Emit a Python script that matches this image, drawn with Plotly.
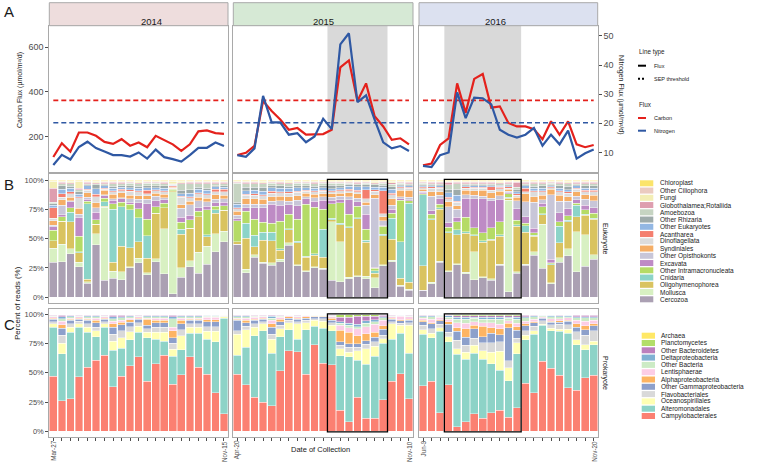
import plotly.graph_objects as go

W, H = 757, 462
def px(x): return x / W
def py(y): return 1 - y / H

# ---------------- data ----------------
years = ["2014", "2015", "2016"]
bar_idx = list(range(21))
first_dates = ["Mar-27", "Apr-20", "Jun-9"]
last_dates = ["Nov-15", "Nov-10", "Nov-20"]
strip_colors = ["#EEDDDD", "#D6E9D5", "#DCE1F0"]

carbon_2014 = [108, 170, 132, 218, 218, 203, 176, 167, 188, 159, 173, 152, 203, 183, 165, 136, 165, 223, 227, 215, 212]
carbon_2015 = [117, 127, 158, 359, 314, 276, 230, 238, 208, 208, 211, 230, 510, 541, 359, 438, 291, 245, 185, 192, 165]
carbon_2016 = [71, 79, 162, 192, 438, 306, 458, 480, 329, 335, 261, 245, 245, 233, 188, 268, 208, 268, 165, 152, 162]
nitrogen_2014 = [5.7, 9.2, 7.6, 11.9, 13.7, 11.5, 10.3, 9.1, 9.1, 8.6, 10.0, 7.9, 11.0, 8.4, 7.7, 6.9, 9.1, 11.6, 11.6, 13.4, 12.2]
nitrogen_2015 = [9.1, 8.5, 11.4, 29.4, 20.3, 20.3, 16.1, 16.6, 13.5, 15.5, 21.6, 18.0, 47.1, 50.9, 27.3, 29.6, 21.3, 13.5, 11.4, 12.2, 10.5]
nitrogen_2016 = [5.4, 5.0, 9.1, 10.0, 30.6, 21.8, 28.8, 28.6, 26.5, 17.8, 16.1, 15.1, 16.1, 18.4, 12.3, 16.1, 12.8, 17.5, 7.9, 9.7, 11.0]
carbon_threshold = 362
nitrogen_threshold = 20.2
# SEP periods (first and last sample index) for 2015 and 2016
sep_periods = {1: (11, 17), 2: (3, 11)}

euk_names = ["Cercozoa", "Mollusca", "Oligohymenophorea", "Cnidaria", "Other Intramacronucleata",
             "Excavata", "Other Opisthokonts", "Syndiniales", "Dinoflagellata", "Acantharea",
             "Other Eukaryotes", "Other Rhizaria", "Amoebozoa", "Globothalamea;Rotaliida",
             "Fungi", "Other Ciliophora", "Chloroplast"]
euk_colors = ["#ABA0B3", "#D8F0C2", "#D9C360", "#8CD4C8", "#B5DB66", "#BE8BC5", "#C8C6D8",
              "#F5AE66", "#DCDCDC", "#F47E6E", "#93B7E3", "#9EABAA", "#C6D4C2", "#DE9EAF",
              "#F3EEB5", "#EBCBC0", "#FBE46B"]

euk_cercozoa = [30, 31, 37, 26, 12, 44, 15, 16, 15, 27, 29, 20, 33, 20, 3, 16, 26, 21, 29, 40, 48,
                48, 21, 35, 28, 29, 31, 44, 28, 23, 25, 25, 16, 14, 18, 18, 17, 8, 30, 27, 10, 6,
                6, 12, 30, 22, 28, 21, 15, 17, 15, 26, 5, 21, 28, 36, 25, 12, 30, 35, 22, 27, 33]
euk_mollusca = [12, 15, 4, 4, 1.5, 9, 65, 6, 7, 1, 4, 2, 3, 39, 88, 8, 5, 18, 16, 16, 9,
                0, 3, 2, 1, 2, 2, 2, 1, 1, 1, 1, 55, 37, 1, 1, 2, 8, 1, 1, 1, 1,
                0, 1, 1, 1, 1, 1, 24, 1, 1, 1, 81, 1, 1, 3, 38, 1, 4, 6, 35, 28, 4]
euk_oligo = [6, 20, 23, 8, 2, 8, 1, 8, 22, 17, 14, 13, 42, 18, 1, 27, 28, 31, 8, 18, 18,
             2, 27, 7, 18, 20, 8, 11, 20, 12, 10, 10, 2, 16, 48, 50, 31, 4, 28, 16, 6, 6,
             22, 55, 45, 33, 25, 35, 14, 30, 34, 23, 2, 40, 28, 13, 8, 16, 13, 23, 13, 17, 31]
euk_cnidaria = [0, 0, 8, 1, 66, 0, 4, 45, 34, 35, 20, 20, 0, 0, 0, 4, 0, 0, 2, 3, 0,
                0, 13, 10, 7, 8, 1, 1, 1, 1, 1, 25, 1, 1, 1, 1, 2, 2, 1, 16, 33, 69,
                64, 1, 1, 1, 4, 1, 1, 1, 1, 1, 1, 1, 6, 1, 1, 1, 14, 1, 10, 1, 1]
euk_other_intra = [9, 4, 4, 13, 2, 4, 3, 5, 4, 5, 8, 15, 6, 4, 1, 6, 7, 5, 22, 3, 4,
                   19, 10, 14, 8, 8, 24, 12, 20, 47, 40, 18, 14, 19, 12, 10, 10, 2, 8, 4, 38, 2,
                   1, 4, 3, 4, 7, 13, 6, 7, 10, 11, 3, 4, 2, 2, 6, 1, 4, 4, 2, 4, 4]
euk_excavata = [3, 2, 5, 16, 2, 6, 2, 3, 3, 2, 5, 14, 6, 3, 0.5, 4, 4, 3, 3, 3, 3,
                2, 3, 10, 12, 17, 14, 8, 12, 5, 5, 8, 3, 3, 14, 4, 14, 1, 1, 3, 1, 1,
                1, 3, 5, 4, 4, 17, 25, 30, 24, 18, 1, 10, 6, 4, 3, 3, 8, 6, 3, 4, 5]
euk_other_opis = [1.5, 8, 1, 3, 1.5, 4, 1, 1, 1, 3, 3, 4, 4, 2, 0.5, 7, 9, 6, 4, 3, 3,
                  3, 3, 3, 3, 3, 4, 3, 5, 2, 3, 3, 3, 3, 3, 3, 8, 57, 4, 3, 2, 2,
                  1, 13, 3, 14, 7, 3, 3, 2, 2, 3, 1, 7, 13, 22, 3, 58, 10, 6, 3, 5, 6]
euk_syndiniales = [4, 5, 3, 5, 4, 4, 4, 4, 4, 3, 3, 3, 3, 3, 1, 3, 3, 3, 3, 4, 3,
                   4, 5, 5, 4, 4, 4, 4, 4, 3, 3, 3, 3, 3, 4, 4, 3, 3, 4, 5, 6, 6,
                   2, 4, 3, 4, 3, 4, 4, 5, 5, 4, 2, 3, 7, 5, 4, 5, 5, 4, 4, 4, 5]
euk_dino = [2, 2, 3, 9, 2, 5, 1, 2, 2, 4, 3, 2, 2, 2, 0.5, 6, 3, 3, 3, 3, 3,
            2, 3, 3, 3, 3, 3, 3, 3, 2, 2, 2, 2, 2, 2, 2, 3, 3, 3, 3, 2, 2,
            1, 3, 3, 3, 3, 2, 2, 2, 2, 2, 1, 2, 2, 4, 3, 1, 3, 3, 2, 3, 3]
euk_acantharea = [9, 3, 1.5, 1, 1, 2, 1, 1, 1, 1, 1, 3, 1, 1, 0.5, 1, 1, 1, 1, 2, 2,
                  1, 1, 1, 1, 2, 1, 1, 1, 1, 1, 1, 1, 1, 1, 1, 8, 1, 22, 1, 1, 1,
                  1, 1, 1, 1, 1, 1, 1, 1, 3, 1, 1, 1, 3, 1, 1, 1, 1, 1, 1, 1, 1]
euk_other_euk = [2, 4, 3, 2, 3, 5, 2, 2, 2, 2, 2, 2, 2, 2, 0.5, 2, 3, 3, 3, 2, 2,
                 3, 3, 3, 3, 3, 3, 3, 3, 2, 2, 2, 2, 2, 3, 3, 3, 2, 3, 3, 1, 1,
                 1, 1, 1, 4, 5, 1, 1, 1, 1, 1, 1, 2, 2, 2, 2, 1, 2, 2, 2, 2, 2]
euk_other_rhiz = [1.5, 3, 2, 2, 1, 3, 1, 2, 1, 2, 2, 2, 2, 2, 0.5, 3, 3, 2, 2, 1, 1,
                  2, 3, 3, 3, 2, 2, 2, 2, 2, 2, 2, 3, 2, 2, 2, 2, 2, 2, 2, 1, 1,
                  1, 1, 1, 3, 5, 1, 1, 1, 1, 1, 1, 2, 1, 2, 2, 1, 2, 3, 1, 2, 2]
euk_amoebozoa = [1, 2, 2, 2, 1, 1, 1, 2, 2, 2, 2, 2, 2, 2, 0.5, 5, 5, 3, 4, 2, 2,
                 17, 3, 3, 3, 2, 2, 2, 2, 2, 2, 2, 2, 2, 1, 1, 1, 1, 2, 2, 1, 1,
                 1, 1, 1, 4, 5, 1, 1, 1, 1, 1, 1, 2, 1, 2, 2, 1, 2, 2, 1, 2, 2]
euk_globo = [12, 1, 1, 1, 1, 1, 1, 1, 1, 1, 1, 1, 1, 1, 0.5, 1, 1, 1, 1, 1, 1,
             1, 1, 1, 1, 1, 1, 1, 1, 1, 1, 1, 1, 1, 1, 1, 1, 1, 1, 1, 1, 1,
             1, 1, 1, 2, 1, 1, 1, 1, 1, 1, 1, 4, 1, 1, 1, 1, 1, 1, 1, 1, 1]
euk_fungi = [6, 1, 1, 6, 1, 1, 1, 1, 1, 1, 1, 1, 1, 1, 2, 1, 1, 1, 1, 1, 1,
             1, 1, 1, 1, 1, 1, 1, 1, 1, 1, 1, 1, 1, 1, 1, 1, 1, 1, 1, 1, 1,
             1, 1, 1, 1, 1, 1, 1, 1, 1, 1, 1, 1, 1, 1, 1, 1, 1, 1, 1, 1, 1]
euk_other_cilio = [0.5, 0.5, 0.5, 0.5, 0.5, 0.5, 0.5, 0.5, 0.5, 0.5, 0.5, 0.5, 0.5, 0.5, 0.5, 0.5, 0.5, 0.5, 0.5, 0.5, 0.5,
                   0.5, 0.5, 0.5, 0.5, 0.5, 0.5, 0.5, 0.5, 0.5, 0.5, 0.5, 0.5, 0.5, 0.5, 0.5, 0.5, 0.5, 0.5, 0.5, 0.5, 0.5,
                   0.5, 0.5, 0.5, 0.5, 0.5, 0.5, 0.5, 0.5, 0.5, 0.5, 0.5, 0.5, 0.5, 0.5, 0.5, 0.5, 0.5, 0.5, 0.5, 0.5, 0.5]
euk_chloroplast = [0.5, 0.5, 0.5, 0.5, 0.5, 0.5, 0.5, 0.5, 0.5, 0.5, 0.5, 0.5, 0.5, 0.5, 0.5, 0.5, 0.5, 0.5, 0.5, 0.5, 0.5,
                   0.5, 0.5, 0.5, 0.5, 0.5, 0.5, 0.5, 0.5, 0.5, 0.5, 0.5, 0.5, 0.5, 0.5, 0.5, 0.5, 0.5, 0.5, 0.5, 0.5, 0.5,
                   0.5, 0.5, 0.5, 0.5, 0.5, 0.5, 0.5, 0.5, 0.5, 0.5, 0.5, 0.5, 0.5, 0.5, 0.5, 0.5, 0.5, 0.5, 0.5, 0.5, 0.5]

pro_names = ["Campylobacterales", "Alteromonadales", "Oceanospirillales", "Flavobacteriales",
             "Other Gammaproteobacteria", "Alphaproteobacteria", "Lentisphaerae", "Other Bacteria",
             "Deltaproteobacteria", "Other Bacteroidetes", "Planctomycetes", "Archaea"]
pro_colors = ["#FB8072", "#8DD3C7", "#FFFFB3", "#D9D9D9", "#8DA0CB", "#FDB462", "#FCCDE5",
              "#CCEBC5", "#80B1D3", "#BC80BD", "#B3DE69", "#FFE866"]

pro_campylo = [47, 26, 28, 47, 55, 61, 65, 38, 47, 56, 64, 43, 58, 65, 40, 48, 64, 55, 49, 33, 15,
               49, 40, 29, 25, 22, 52, 69, 68, 49, 74, 58, 57, 18, 8, 29, 11, 11, 27, 43, 50, 28,
               39, 43, 16, 40, 4, 8, 15, 11, 16, 18, 12, 20, 41, 33, 60, 54, 48, 37, 35, 45, 48]
pro_altero = [42, 40, 57, 43, 30, 20, 24, 31, 24, 22, 21, 37, 21, 12, 24, 21, 20, 29, 30, 44, 82,
              16, 32, 53, 61, 45, 29, 18, 11, 38, 16, 30, 29, 47, 56, 32, 46, 53, 48, 36, 35, 39,
              44, 37, 70, 37, 62, 53, 52, 51, 42, 34, 31, 46, 37, 50, 31, 32, 38, 47, 39, 24, 26]
pro_oceano = [3, 9, 4, 3, 4, 5, 3, 8, 9, 7, 5, 5, 6, 8, 6, 12, 5, 5, 7, 9, 1,
              18, 15, 7, 6, 12, 7, 6, 13, 6, 5, 6, 5, 6, 4, 8, 13, 8.5, 4, 13, 7, 24,
              4, 4, 3, 4, 5, 6, 7, 7, 10, 16, 11, 9, 4, 3, 1, 2, 2, 3, 4, 4, 3]
pro_flavo = [2, 7, 3, 2, 3, 3, 2, 6, 6, 4, 3, 3, 4, 4, 5, 5, 3, 3, 4, 4, 0.5,
             3, 3, 3, 2, 4, 3, 2, 2, 2, 1.5, 2, 2, 3, 4, 3, 4, 4, 3, 2, 2, 2,
             4, 4, 3, 4, 7, 6, 6, 7, 8, 8, 6, 4, 4, 4, 3, 3, 4, 4, 7, 8, 9]
pro_other_gamma = [2, 6, 3, 2, 3, 4, 2, 6, 5, 4, 3, 3, 4, 4, 5, 5, 3, 3, 4, 4, 0.5,
                   9, 3, 3, 2, 6, 3, 2, 2, 2, 1.5, 1.5, 2, 3, 3, 3, 3, 4, 5, 2, 2, 2,
                   3, 4, 3, 7, 8, 7, 8, 5, 8, 6, 28, 7, 4, 3, 2, 2, 2, 3, 4, 5, 4]
pro_alpha = [1, 3, 1, 1, 1, 2, 1, 3, 2, 2, 1, 5, 2, 2, 6, 3, 1, 1, 2, 2, 0.3,
             1, 2, 1, 1, 3, 2, 1, 1, 1, 0.5, 0.5, 2, 10, 10, 7, 6, 4, 3, 1, 1, 1,
             1, 1, 1, 2, 3, 7, 3, 9, 5, 5, 4, 3, 2, 1, 0.5, 1, 1, 1, 3, 3, 2]
pro_lenti = [1, 3, 1, 1, 1, 2, 1, 2, 2, 1.5, 1, 1, 2, 2, 3, 2, 1, 1, 2, 2, 0.2,
             1, 2, 1.5, 1, 3, 1.5, 1, 1, 1, 0.5, 0.5, 1, 4, 4, 6, 6, 7, 5, 1, 3, 2,
             2, 3, 2, 2, 4, 5, 3, 3, 4, 4, 2, 3, 2, 2, 1, 2, 2, 2, 3, 4, 3]
pro_other_bact = [0.5, 2, 1, 0.5, 1, 1, 0.5, 2, 2, 1, 0.5, 1, 1, 1, 7, 1, 1, 1, 1, 1, 0.2,
                  1, 1, 1, 0.5, 2, 1, 0.3, 0.5, 0.3, 0.3, 0.3, 0.5, 2, 2, 2, 3, 2, 2, 0.5, 0.3, 0.5,
                  1, 2, 1, 2, 3, 3, 3, 3, 3, 4, 2, 3, 3, 2, 0.5, 2, 1.5, 1, 2, 3, 2]
pro_delta = [0.5, 2, 1, 0.5, 1, 1, 0.5, 2, 1, 1, 0.5, 1, 1, 1, 2, 1, 1, 1, 0.5, 0.5, 0.1,
             1, 1, 0.5, 0.5, 1.5, 0.5, 0.3, 0.5, 0.3, 0.3, 0.3, 0.5, 1, 2, 2, 2, 2, 1, 0.5, 0.3, 0.5,
             1, 1, 0.5, 1, 2, 2, 1, 2, 2, 2, 1, 2, 1, 1, 0.5, 1, 1, 1, 1, 1, 1]
pro_bacteroid = [0.5, 1, 0.5, 0.5, 0.5, 0.5, 0.5, 1, 1, 0.5, 0.5, 0.5, 0.5, 0.5, 1, 0.5, 0.5, 0.5, 0.3, 0.3, 0.1,
                 0.5, 0.5, 0.5, 0.5, 1, 0.5, 0.2, 0.5, 0.2, 0.2, 0.2, 0.5, 4, 5, 7, 4, 3, 1, 0.5, 0.3, 0.5,
                 0.5, 0.5, 0.3, 0.5, 1, 1, 1, 1, 1, 1, 1, 1, 1, 0.5, 0.3, 0.3, 0.5, 0.3, 1, 1, 1]
pro_planct = [0.3, 0.5, 0.3, 0.3, 0.3, 0.3, 0.3, 0.5, 0.5, 0.3, 0.3, 0.3, 0.3, 0.3, 0.5, 0.3, 0.3, 0.3, 0.3, 0.3, 0.1,
              0.3, 0.3, 0.3, 0.3, 0.3, 0.3, 0.1, 0.3, 0.1, 0.1, 0.1, 0.3, 2, 2, 1, 1, 1, 0.5, 0.3, 0.3, 0.3,
              0.3, 0.3, 0.3, 0.5, 1, 1, 1, 1, 1, 1, 1, 1, 0.5, 0.3, 0.2, 0.2, 0.3, 0.3, 0.5, 0.5, 0.5]
pro_archaea = [0.2, 0.2, 0.2, 0.2, 0.2, 0.2, 0.2, 0.2, 0.2, 0.2, 0.2, 0.2, 0.2, 0.2, 0.2, 0.2, 0.2, 0.2, 0.2, 0.2, 0.1,
               0.2, 0.2, 0.2, 0.2, 0.2, 0.2, 0.2, 0.2, 0.2, 0.2, 0.2, 0.2, 0.3, 0.3, 0.3, 0.3, 0.3, 0.2, 0.2, 0.2, 0.2,
               0.2, 0.2, 0.2, 0.2, 0.2, 0.2, 0.2, 0.2, 0.2, 0.2, 0.2, 0.2, 0.2, 0.2, 0.2, 0.2, 0.2, 0.2, 0.2, 0.2, 0.2]

euk_values = [euk_cercozoa, euk_mollusca, euk_oligo, euk_cnidaria, euk_other_intra, euk_excavata,
              euk_other_opis, euk_syndiniales, euk_dino, euk_acantharea, euk_other_euk, euk_other_rhiz,
              euk_amoebozoa, euk_globo, euk_fungi, euk_other_cilio, euk_chloroplast]
pro_values = [pro_campylo, pro_altero, pro_oceano, pro_flavo, pro_other_gamma, pro_alpha, pro_lenti,
              pro_other_bact, pro_delta, pro_bacteroid, pro_planct, pro_archaea]

carbon = [carbon_2014, carbon_2015, carbon_2016]
nitrogen = [nitrogen_2014, nitrogen_2015, nitrogen_2016]

# ---------------- layout geometry ----------------
FONT = "Liberation Sans, Arial, sans-serif"
RED, BLUE = "#E4211C", "#2F58A3"
BORDER = "#A9A9A9"
col_px = [(49.3, 228.0), (233.3, 413.0), (419.0, 597.7)]
rowA = (26.0, 172.0)
rowB = (174.3, 303.0)
rowC = (308.7, 437.0)
xr = [-0.47, 20.47]

fig = go.Figure()
layout = dict(
    width=W, height=H, margin=dict(l=0, r=0, t=0, b=0, autoexpand=False),
    paper_bgcolor="white", plot_bgcolor="white",
    barmode="stack", barnorm="percent", bargap=0.1,
    showlegend=False, font=dict(family=FONT, color="#4D4D4D"),
)

def base_axis(**kw):
    d = dict(showline=True, mirror=True, linecolor=BORDER, linewidth=1, automargin=False,
             showgrid=False, zeroline=False, ticks="", showticklabels=False,
             tickfont=dict(size=7.5, color="#4D4D4D", family=FONT),
             ticklen=3, tickcolor="#4D4D4D", tickwidth=0.8, fixedrange=True)
    d.update(kw)
    return d

for c in range(3):
    xd = [px(col_px[c][0]), px(col_px[c][1])]
    # row A
    layout[f"xaxis{c+1}"] = base_axis(domain=xd, range=xr, anchor=f"y{c+1}")
    ya = base_axis(domain=[py(rowA[1]), py(rowA[0])], range=[41, 695], anchor=f"x{c+1}")
    if c == 0:
        ya.update(ticks="outside", showticklabels=True, tickvals=[200, 400, 600],
                  tickfont=dict(size=9, color="#4D4D4D", family=FONT))
    layout[f"yaxis{c+1}"] = ya
    yn = dict(overlaying=f"y{c+1}", anchor=f"x{c+1}", side="right", range=[3.3, 53.4],
              showgrid=False, zeroline=False, showline=False, ticks="", showticklabels=False,
              fixedrange=True, automargin=False)
    if c == 2:
        yn.update(ticks="outside", showticklabels=True, tickvals=[10, 20, 30, 40, 50],
                  ticklen=3, tickcolor="#4D4D4D", tickwidth=0.8,
                  tickfont=dict(size=9, color="#4D4D4D", family=FONT))
    layout[f"yaxis{c+4}"] = yn
    # row B
    layout[f"xaxis{c+4}"] = base_axis(domain=xd, range=xr, anchor=f"y{c+7}")
    yb = base_axis(domain=[py(rowB[1]), py(rowB[0])], range=[-5, 105], anchor=f"x{c+4}")
    if c == 0:
        yb.update(ticks="outside", showticklabels=True, tickvals=[0, 25, 50, 75, 100],
                  ticktext=["0%", "25%", "50%", "75%", "100%"])
    layout[f"yaxis{c+7}"] = yb
    # row C: tick marks at every sample; date labels drawn as annotations below
    layout[f"xaxis{c+7}"] = base_axis(domain=xd, range=xr, anchor=f"y{c+10}",
                                      ticks="outside", ticklen=2.5, tickvals=bar_idx)
    yc = base_axis(domain=[py(rowC[1]), py(rowC[0])], range=[-5, 105], anchor=f"x{c+7}")
    if c == 0:
        yc.update(ticks="outside", showticklabels=True, tickvals=[0, 25, 50, 75, 100],
                  ticktext=["0%", "25%", "50%", "75%", "100%"])
    layout[f"yaxis{c+10}"] = yc

# ---------------- traces ----------------
for c in range(3):
    xa = f"x{c+1}"
    fig.add_trace(go.Scatter(x=[0, 20], y=[carbon_threshold] * 2, mode="lines", xaxis=xa, yaxis=f"y{c+1}",
                             line=dict(color=RED, width=1.6, dash="5px,3px"), hoverinfo="skip"))
    fig.add_trace(go.Scatter(x=[0, 20], y=[nitrogen_threshold] * 2, mode="lines", xaxis=xa, yaxis=f"y{c+4}",
                             line=dict(color=BLUE, width=1.6, dash="5px,3px"), hoverinfo="skip"))
    fig.add_trace(go.Scatter(x=bar_idx, y=carbon[c], mode="lines", xaxis=xa, yaxis=f"y{c+1}",
                             line=dict(color=RED, width=2.2)))
    fig.add_trace(go.Scatter(x=bar_idx, y=nitrogen[c], mode="lines", xaxis=xa, yaxis=f"y{c+4}",
                             line=dict(color=BLUE, width=2.2)))
    sl = slice(21 * c, 21 * (c + 1))
    for name, col, vals in zip(euk_names, euk_colors, euk_values):
        fig.add_trace(go.Bar(x=bar_idx, y=vals[sl], name=name, xaxis=f"x{c+4}", yaxis=f"y{c+7}",
                             marker=dict(color=col, line=dict(color="white", width=0.4)), width=0.9))
    for name, col, vals in zip(pro_names, pro_colors, pro_values):
        fig.add_trace(go.Bar(x=bar_idx, y=vals[sl], name=name, xaxis=f"x{c+7}", yaxis=f"y{c+10}",
                             marker=dict(color=col, line=dict(color="white", width=0.4)), width=0.9))

# ---------------- shapes & annotations ----------------
shapes, ann = [], []
for c in range(3):
    shapes.append(dict(type="rect", xref="paper", yref="paper",
                       x0=px(col_px[c][0]), x1=px(col_px[c][1]), y0=py(25.7), y1=py(2.7),
                       fillcolor=strip_colors[c], line=dict(color=BORDER, width=1)))
    ann.append(dict(text=years[c], xref="paper", yref="paper", x=px(sum(col_px[c]) / 2), y=py(14.2),
                    showarrow=False, font=dict(size=9.5, color="#1A1A1A", family=FONT)))
    # first / last collection dates under each prokaryote panel
    for xi, lab in [(0, first_dates[c]), (20, last_dates[c])]:
        ann.append(dict(text=lab, xref=f"x{c+7}", yref="paper", x=xi, y=py(439.5), showarrow=False,
                        textangle=-90, xanchor="center", yanchor="top", borderpad=0,
                        font=dict(size=6.3, color="#4D4D4D", family=FONT)))
for c, (s, e) in sep_periods.items():
    shapes.append(dict(type="rect", xref=f"x{c+1}", yref=f"y{c+1} domain", x0=s - 0.5, x1=e + 0.5,
                       y0=0, y1=1, fillcolor="#D9D9D9", line=dict(width=0), layer="below"))
    for xa, ya in [(f"x{c+4}", f"y{c+7}"), (f"x{c+7}", f"y{c+10}")]:
        shapes.append(dict(type="rect", xref=xa, yref=ya, x0=s - 0.5, x1=e + 0.5, y0=-0.6, y1=100.6,
                           line=dict(color="black", width=1.3), layer="above"))

def text(t, x, y, size=7, color="#1A1A1A", angle=0, xanchor="center", yanchor="middle"):
    ann.append(dict(text=t, xref="paper", yref="paper", x=px(x), y=py(y), showarrow=False,
                    textangle=angle, xanchor=xanchor, yanchor=yanchor,
                    font=dict(size=size, color=color, family=FONT)))

text("A", 2, 11, size=15, xanchor="left")
text("B", 2, 185, size=15, xanchor="left")
text("C", 2, 324, size=15, xanchor="left")
text("Carbon Flux (µmol/m²/d)", 20, 90, size=7, angle=-90)
text("Nitrogen Flux (µmol/m²/d)", 621, 95, size=7, angle=90)
text("Percent of reads (%)", 17, 303, size=8, angle=-90)
text("Eukaryote", 605, 239, size=7, angle=90)
text("Prokaryote", 605, 373, size=7, angle=90)
text("Date of Collection", 320, 449, size=7.5)

# legend for panel A
text("Line type", 637, 52, size=6.3, xanchor="left")
shapes.append(dict(type="line", xref="paper", yref="paper", x0=px(638), x1=px(646), y0=py(65.7), y1=py(65.7),
                   line=dict(color="black", width=2)))
text("Flux", 651.5, 65.7, size=5.5, xanchor="left")
shapes.append(dict(type="line", xref="paper", yref="paper", x0=px(638), x1=px(646), y0=py(78.7), y1=py(78.7),
                   line=dict(color="black", width=2, dash="2px,2px")))
text("SEP threshold", 651.5, 78.7, size=5.5, xanchor="left")
text("Flux", 637, 104.7, size=6.3, xanchor="left")
for yy, colr, lab in [(118, RED, "Carbon"), (130.7, BLUE, "Nitrogen")]:
    shapes.append(dict(type="line", xref="paper", yref="paper", x0=px(638), x1=px(646), y0=py(yy), y1=py(yy),
                       line=dict(color=colr, width=2)))
    text(lab, 651.5, yy, size=5.5, xanchor="left")

# legends for bars (top entry first)
for i, (name, colr) in enumerate(zip(euk_names[::-1], euk_colors[::-1])):
    yy = 183.3 + i * 7.25
    shapes.append(dict(type="rect", xref="paper", yref="paper", x0=px(640), x1=px(653.3),
                       y0=py(yy + 3), y1=py(yy - 3), fillcolor=colr, line=dict(width=0)))
    text(name, 657.5, yy, size=6.5, xanchor="left")
for i, (name, colr) in enumerate(zip(pro_names[::-1], pro_colors[::-1])):
    yy = 335.7 + i * 7.3
    shapes.append(dict(type="rect", xref="paper", yref="paper", x0=px(641.7), x1=px(655),
                       y0=py(yy + 3), y1=py(yy - 3), fillcolor=colr, line=dict(width=0)))
    text(name, 659, yy, size=6.5, xanchor="left")

layout["shapes"] = shapes
layout["annotations"] = ann
fig.update_layout(**layout)
fig.write_html("out.html", config={"displayModeBar": False},
               post_script="document.body.style.margin='0px';document.body.style.overflow='hidden';")
